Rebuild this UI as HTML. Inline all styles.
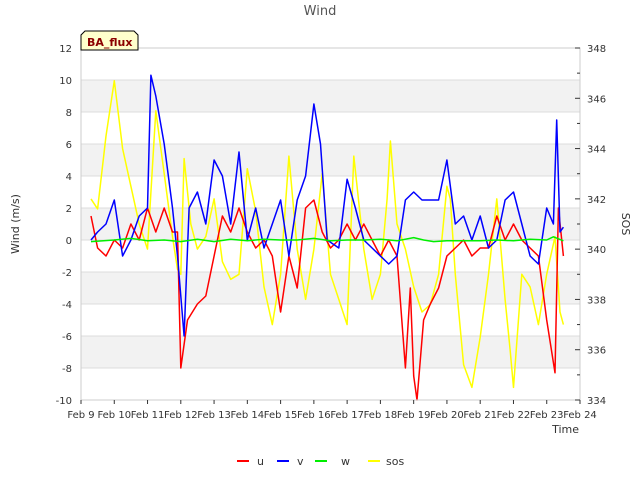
<!DOCTYPE html>
<html><head><meta charset="utf-8"><style>
body{margin:0;background:#fff;font-family:"Liberation Sans","DejaVu Sans",sans-serif}
svg text{font-family:"DejaVu Sans","Liberation Sans",sans-serif}
</style></head><body>
<svg id="chart" width="640" height="480" xmlns="http://www.w3.org/2000/svg">
<rect width="640" height="480" fill="#fff"/>
<text x="320" y="15" text-anchor="middle" font-size="13" fill="#555">Wind</text>
<g id="grid"></g><g id="series"></g><g id="axes"></g>
<text x="19" y="224" text-anchor="middle" font-size="11" fill="#333" transform="rotate(-90 19 224)">Wind (m/s)</text>
<text x="622" y="224" text-anchor="middle" font-size="11" fill="#333" transform="rotate(90 622 224)">SOS</text>
<text x="579" y="433" text-anchor="end" font-size="11" fill="#333">Time</text>
<g><path d="M81 50 L81 35 L85 31 L134 31 L138 35 L138 50 Z" fill="#ffffcc" stroke="#000" stroke-width="1"/>
<text x="87" y="46" font-size="11" font-weight="bold" fill="#8b0000">BA_flux</text></g>
<g>
<g><line x1="237" y1="461" x2="249" y2="461" stroke="red" stroke-width="2"/><text x="257" y="465" font-size="11" fill="#333">u</text></g>
<g><line x1="277" y1="461" x2="289" y2="461" stroke="blue" stroke-width="2"/><text x="297" y="465" font-size="11" fill="#333">v</text></g>
<g><line x1="315" y1="461" x2="327" y2="461" stroke="#00ee00" stroke-width="2"/><text x="341" y="465" font-size="11" fill="#333">w</text></g>
<g><line x1="368" y1="461" x2="380" y2="461" stroke="yellow" stroke-width="2"/><text x="386" y="465" font-size="11" fill="#333">sos</text></g>
</g>
</svg>
<script>
const xTickLabels=["Feb 9","Feb 10","Feb 11","Feb 12","Feb 13","Feb 14","Feb 15","Feb 16","Feb 17","Feb 18","Feb 19","Feb 20","Feb 21","Feb 22","Feb 23","Feb 24"];
const yTicks=[-10,-8,-6,-4,-2,0,2,4,6,8,10,12];
const y2Ticks=[334,336,338,340,342,344,346,348];
const vT=[9.3,9.5,9.75,10.0,10.25,10.5,10.75,11.0,11.1,11.25,11.5,11.75,11.9,12.1,12.25,12.5,12.75,13.0,13.25,13.5,13.75,14.0,14.25,14.5,14.75,15.0,15.25,15.5,15.75,16.0,16.2,16.4,16.75,17.0,17.25,17.5,17.75,18.0,18.25,18.5,18.75,19.0,19.25,19.5,19.75,20.0,20.25,20.5,20.75,21.0,21.25,21.5,21.75,22.0,22.25,22.5,22.75,23.0,23.2,23.3,23.4,23.5];
const vV=[0,0.5,1,2.5,-1,0,1.5,2,10.3,9,6,2,-1,-6,2,3,1,5,4,1,5.5,0,2,-0.5,1,2.5,-1,2.5,4,8.5,6,0,-0.5,3.8,2,0,-0.5,-1,-1.5,-1,2.5,3,2.5,2.5,2.5,5,1,1.5,0,1.5,-0.5,0,2.5,3,1,-1,-1.5,2,1,7.5,0.5,0.8];
const uT=[9.3,9.5,9.75,10.0,10.25,10.5,10.75,11.0,11.25,11.5,11.75,11.9,12.0,12.2,12.5,12.75,13.0,13.25,13.5,13.75,14.0,14.25,14.5,14.75,15.0,15.25,15.5,15.75,16.0,16.25,16.5,16.75,17.0,17.25,17.5,17.75,18.0,18.25,18.5,18.75,18.9,19.0,19.1,19.3,19.5,19.75,20.0,20.25,20.5,20.75,21.0,21.25,21.5,21.75,22.0,22.25,22.5,22.75,23.0,23.25,23.35,23.5];
const uV=[1.5,-0.5,-1,0,-0.5,1,0,2,0.5,2,0.5,0.5,-8,-5,-4,-3.5,-1,1.5,0.5,2,0.5,-0.5,0,-1,-4.5,-1,-3,2,2.5,0.5,-0.5,0,1,0,1,0,-1,0,-1,-8,-3,-8.5,-10,-5,-4,-3,-1,-0.5,0,-1,-0.5,-0.5,1.5,0,1,0,-0.5,-1,-5,-8.3,2,-1];
const sT=[9.3,9.5,9.75,10.0,10.25,10.5,10.75,11.0,11.25,11.5,11.75,11.9,12.0,12.1,12.3,12.5,12.75,13.0,13.25,13.5,13.75,14.0,14.25,14.5,14.75,15.0,15.25,15.5,15.75,16.0,16.25,16.5,16.75,17.0,17.2,17.5,17.75,18.0,18.2,18.3,18.5,18.75,19.0,19.25,19.5,19.75,20.0,20.1,20.25,20.5,20.75,21.0,21.25,21.5,21.75,21.9,22.0,22.25,22.5,22.75,23.0,23.25,23.4,23.5];
const sV=[342,341.6,344.5,346.7,344,342.5,341,340,345.5,343,340.5,339.2,339,343.6,341,340,340.5,342,339.5,338.8,339,343.2,341.5,338.5,337,339,343.7,340,338,340,343,339,338,337,343.7,340,338,339,342,344.3,341,340,338.5,337.5,337.8,339,342.5,342,339,335.4,334.5,336.5,339,342,338,336,334.5,339,338.5,337,339,340.5,337.5,337];
const wT=[9.3,10,10.5,11,11.5,12,12.5,13,13.5,14,14.5,15,15.5,16,16.5,17,17.5,18,18.5,19,19.3,19.6,20,20.5,21,21.5,22,22.5,23,23.2,23.5];
const wV=[-0.1,0,0.1,-0.05,0,-0.1,0.05,-0.1,0.05,-0.05,0.05,0,0,0.1,-0.05,0,0,0.05,-0.05,0.15,0,-0.1,-0.05,-0.05,-0.05,0,-0.05,0.05,0,0.2,-0.05];

const NS="http://www.w3.org/2000/svg";
const X0=81,X1=580,Y0=48,Y1=400;
const xs=t=>X0+(t-9)*(X1-X0)/15;
const ys=v=>Y1-(v+10)*(Y1-Y0)/22;
const ys2=v=>Y1-(v-334)*(Y1-Y0)/14;
function mk(tag,attrs,parent){const e=document.createElementNS(NS,tag);for(const k in attrs)e.setAttribute(k,attrs[k]);parent.appendChild(e);return e;}
const grid=document.getElementById('grid'),axes=document.getElementById('axes'),ser=document.getElementById('series');
[[8,10],[4,6],[0,2],[-4,-2],[-8,-6]].forEach(b=>{const r=mk('rect',{x:X0,y:ys(b[1]),width:X1-X0,height:ys(b[0])-ys(b[1]),fill:'#f2f2f2'},grid);

});
yTicks.forEach(v=>{const l=mk('line',{x1:X0,x2:X1,y1:ys(v),y2:ys(v),stroke:'#dcdcdc','stroke-width':1},grid);


const t=mk('text',{x:72,y:ys(v)+4,'text-anchor':'end','font-size':10,fill:'#333'},axes);t.textContent=v;

});
const fr=mk('rect',{x:X0,y:Y0,width:X1-X0,height:Y1-Y0,fill:'none',stroke:'#ccc'},axes);


xTickLabels.forEach((s,i)=>{const x=xs(9+i);mk('line',{x1:x,x2:x,y1:Y1,y2:Y1+4,stroke:'#333'},axes);
const t=mk('text',{x:x,y:Y1+18,'text-anchor':'middle','font-size':10,fill:'#333'},axes);t.textContent=s;

});
for(let v=334;v<=348;v++){mk('line',{x1:X1,x2:X1-(v%2?3:5),y1:ys2(v),y2:ys2(v),stroke:'#333'},axes);}
y2Ticks.forEach(v=>{const t=mk('text',{x:587,y:ys2(v)+4,'font-size':10,fill:'#333'},axes);t.textContent=v;

});
function line(T,V,sc,col,name){const d=T.map((t,i)=>(i?'L':'M')+xs(t).toFixed(1)+' '+sc(V[i]).toFixed(1)).join(' ');
const p=mk('path',{d:d,fill:'none',stroke:col,'stroke-width':1.5,'stroke-linejoin':'round'},ser);

}
line(sT,sV,ys2,'yellow','sos-line');
line(uT,uV,ys,'red','u-line');
line(vT,vV,ys,'blue','v-line');
line(wT,wV,ys,'#00ee00','w-line');
</script>
</body></html>
